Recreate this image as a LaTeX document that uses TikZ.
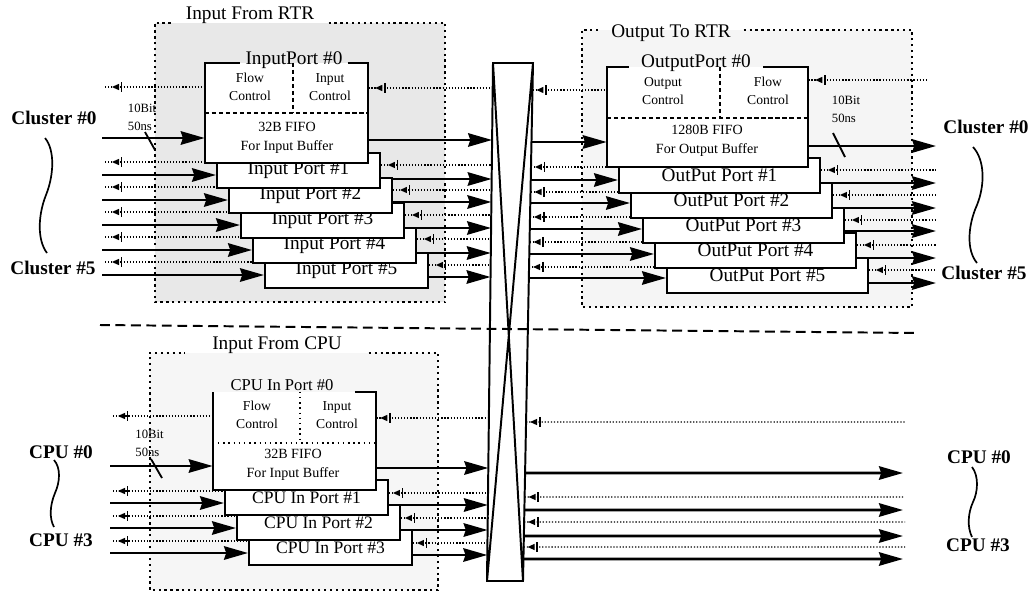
\documentclass[tikz,border=0pt]{standalone}
\usepackage{fontspec}
\setmainfont{Liberation Serif}
\usetikzlibrary{arrows.meta,calc}

\pgfdeclarelayer{back}
\pgfdeclarelayer{mid}
\pgfsetlayers{back,mid,main}

\begin{document}
\begin{tikzpicture}[x=0.25mm, y=-0.25mm,
  >={Stealth[length=17pt, width=9.5pt, inset=1.5pt]},
  bus/.style={line width=2pt, ->},
  sig/.style={line width=0.9pt, dash pattern=on 0.9pt off 1.3pt},
  grpline/.style={line width=1.3pt, dash pattern=on 1.6pt off 2.6pt},
  grp/.style={inner sep=0pt},
  port/.style={draw, fill=white, line width=1.4pt, inner sep=0pt, font=\fontsize{13.7}{15}\selectfont},
  cport/.style={port, font=\fontsize{12.5}{13}\selectfont},
  port0/.style={fill=white, inner sep=0pt},
  frame/.style={line width=1.4pt},
  divline/.style={line width=1.1pt, dash pattern=on 3pt off 2pt},
  cdivline/.style={line width=1.1pt, dash pattern=on 1.1pt off 2.6pt},
  ttl/.style={font=\fontsize{13.7}{15}\selectfont, inner ysep=0pt},
  cttl/.style={font=\fontsize{11.8}{13}\selectfont, inner ysep=0pt},
  small/.style={align=center, font=\fontsize{9.7}{12.8}\selectfont, inner sep=0pt},
  fifo/.style={align=center, font=\fontsize{10}{13.5}\selectfont, inner sep=0pt},
  big/.style={font=\fontsize{13.7}{15}\selectfont\bfseries, inner sep=0pt},
  rate/.style={align=left, font=\fontsize{9}{12.8}\selectfont, inner sep=0pt},
  slash/.style={line width=1.3pt},
  brace/.style={line width=1.2pt},
  ack/.pic={\fill (-5,0) -- (2,-3.2) -- (2,3.2) -- cycle;
            \draw[line width=1.4pt] (4.5,-5) -- (4.5,5);}]
\useasboundingbox (0,0) rectangle (1030,592);

% shaded regions
\begin{pgfonlayer}{back}
\node[grp, fill=gray!18, minimum width=72.5mm, minimum height=69.75mm] (gIn) at (300,162.5) {};
\node[grp, fill=gray!8, minimum width=82.5mm, minimum height=69.25mm] (gOut) at (747,168.5) {};
\node[grp, fill=gray!7, minimum width=72mm, minimum height=59.25mm] (gCpu) at (294,471.5) {};
\end{pgfonlayer}
\node[ttl, inner xsep=10pt] (tIn) at (250,15) {Input From RTR};
\node[ttl, inner xsep=9pt] (tOut) at (671,33) {Output To RTR};
\node[ttl, inner xsep=19pt] (tCpu) at (277,345) {Input From CPU};

% ports, back to front
\foreach \k in {5,4,...,1}{
  \node[port, minimum width=40.75mm, minimum height=8.75mm] (inA\k) at (286.5+12*\k,145.5+25*\k) {Input Port \#\k};
  \node[port, minimum width=50.25mm, minimum height=8.75mm] (outA\k) at (707.5+12*\k,150.5+25*\k) {OutPut Port \#\k};
}
\foreach \k in {3,2,1}
  \node[cport, minimum width=40.75mm, minimum height=8.75mm] (cin\k) at (294.5+12*\k,472.5+25*\k) {CPU In Port \#\k};

\node[port0, minimum width=40.75mm, minimum height=25mm] (inA0) at (286.5,113) {};
\node[ttl, inner xsep=3.5pt] (tinA0) at (294,60) {InputPort \#0};
\draw[frame] (tinA0.east |- inA0.north) -- (inA0.north east) -- (inA0.south east) -- (inA0.south west) -- (inA0.north west) -- (tinA0.west |- inA0.north);
\coordinate (inAv) at ($(inA0.north west)!0.54!(inA0.north east)$);
\coordinate (inAh) at ($(inA0.north west)!0.5!(inA0.south west)$);
\draw[divline] (inAh) -- (inAh -| inA0.east) (inAv) -- (inAv |- inAh);
\node[small] (inAfc) at (250,87) {Flow\\Control};
\node[small] (inAic) at (330,87) {Input\\Control};
\node[fifo] (inAbuf) at (287,138) {32B FIFO\\For Input Buffer};

\node[port0, minimum width=50.25mm, minimum height=25mm] (outA0) at (707.5,117) {};
\node[ttl, inner xsep=8.5pt] (toutA0) at (696,63) {OutputPort \#0};
\draw[frame] (toutA0.east |- outA0.north) -- (outA0.north east) -- (outA0.south east) -- (outA0.south west) -- (outA0.north west) -- (toutA0.west |- outA0.north);
\coordinate (outAv) at ($(outA0.north west)!0.562!(outA0.north east)$);
\coordinate (outAh) at ($(outA0.north west)!0.51!(outA0.south west)$);
\draw[divline] (outAh) -- (outAh -| outA0.east) (outAv) -- (outAv |- outAh);
\node[small] (outAoc) at (663,91) {Output\\Control};
\node[small] (outAfc) at (768,91) {Flow\\Control};
\node[fifo] (outAbuf) at (707,141) {1280B FIFO\\For Output Buffer};

\node[port0, minimum width=40.75mm, minimum height=24.5mm] (cin0) at (294.5,441) {};
\node[cttl, inner xsep=15pt] (tcin0) at (282,385) {CPU In Port \#0};
\draw[frame] (tcin0.east |- cin0.north) -- (cin0.north east) -- (cin0.south east) -- (cin0.south west) -- (cin0.north west);
\coordinate (cinv) at ($(cin0.north west)!0.534!(cin0.north east)$);
\coordinate (cinh) at ($(cin0.north west)!0.52!(cin0.south west)$);
\draw[cdivline] (cinh) -- (cinh -| cin0.east) (cinv) -- (cinv |- cinh);
\node[small] (cinfc) at (257,415) {Flow\\Control};
\node[small] (cinic) at (337,415) {Input\\Control};
\node[fifo] (cinbuf) at (293,465) {32B FIFO\\For Input Buffer};

% crossbar
\coordinate (xtl) at (493,63); \coordinate (xtr) at (533,63);
\coordinate (xbr) at (523,581); \coordinate (xbl) at (487,581);
\draw[frame, line join=miter] (xtl) -- (xtr) -- (xbr) -- (xbl) -- cycle (xtl) -- (xbr) (xtr) -- (xbl);

\coordinate (sepL) at (100,325); \coordinate (sepR) at (917,333);
\draw[line width=1.4pt, dash pattern=on 7pt off 4pt] (sepL) -- (sepR);

% links
\begin{pgfonlayer}{mid}
\draw[grpline] (tIn.east |- gIn.north) -- (gIn.north east) -- (gIn.south east) -- (gIn.south west) -- (gIn.north west) -- (tIn.west |- gIn.north);
\draw[grpline] (tOut.east |- gOut.north) -- (gOut.north east) -- (gOut.south east) -- (gOut.south west) -- (gOut.north west) -- (tOut.west |- gOut.north);
\draw[grpline] (tCpu.east |- gCpu.north) -- (gCpu.north east) -- (gCpu.south east) -- (gCpu.south west) -- (gCpu.north west) -- (tCpu.west |- gCpu.north);
\foreach \k/\ld/\lb/\md/\mb/\od/\ob/\rd/\rb/\re in {
  0/87/138/88/140/90/142/80/146/926,
  1/162/175/165/179/167/180/170/183/936,
  2/187/200/190/202/192/203/195/208/936,
  3/212/225/215/228/217/229/220/231/936,
  4/237/250/239/253/242/254/245/258/936,
  5/262/275/265/277/267/278/270/283/936}{
  \pgfmathsetmacro\fa{(\md-63)/518}
  \pgfmathsetmacro\fb{(\mb-63)/518}
  \pgfmathsetmacro\fc{(\od-63)/518}
  \pgfmathsetmacro\fd{(\ob-63)/518}
  \coordinate (cd\k) at (105,\ld);
  \coordinate (cb\k) at (102,\lb);
  \coordinate (xd\k) at ($(xtl)!\fa!(xbl)$);
  \coordinate (xb\k) at ($(xtl)!\fb!(xbl)$);
  \coordinate (yd\k) at ($(xtr)!\fc!(xbr)$);
  \coordinate (yb\k) at ($(xtr)!\fd!(xbr)$);
  \coordinate (rd\k) at (\re,\rd);
  \coordinate (rb\k) at (936,\rb);
  \draw[sig] (cd\k) -- (cd\k -| inA\k.west);
  \draw[sig] (inA\k.east |- xd\k) -- (xd\k);
  \draw[sig] (yd\k) -- (yd\k -| outA\k.west);
  \draw[sig] (outA\k.east |- rd\k) -- (rd\k);
  \draw[bus] (cb\k) -- (cb\k -| inA\k.west);
  \draw[bus] (inA\k.east |- xb\k) -- (xb\k);
  \draw[bus] (yb\k) -- (yb\k -| outA\k.west);
  \draw[bus] (outA\k.east |- rb\k) -- (rb\k);
  \pic at ($(cd\k)+(12,0)$) {ack};
  \pic at ($(inA\k.east |- xd\k)+(12,0)$) {ack};
  \pic at ($(yd\k)+(9,0)$) {ack};
  \pic at ($(outA\k.east |- rd\k)+(12,0)$) {ack};
}
\foreach \k/\ld/\lb/\md/\mb/\od/\ob in {
  0/416/466/418/468/422/473,
  1/491/503/493/505/497/510,
  2/516/528/518/530/522/536,
  3/541/553/543/555/547/559}{
  \pgfmathsetmacro\fa{(\md-63)/518}
  \pgfmathsetmacro\fb{(\mb-63)/518}
  \pgfmathsetmacro\fc{(\od-63)/518}
  \pgfmathsetmacro\fd{(\ob-63)/518}
  \coordinate (pd\k) at (113,\ld);
  \coordinate (pb\k) at (110,\lb);
  \coordinate (ud\k) at ($(xtl)!\fa!(xbl)$);
  \coordinate (ub\k) at ($(xtl)!\fb!(xbl)$);
  \coordinate (vd\k) at ($(xtr)!\fc!(xbr)$);
  \coordinate (vb\k) at ($(xtr)!\fd!(xbr)$);
  \coordinate (qd\k) at (905,\od);
  \coordinate (qb\k) at (903,\ob);
  \draw[sig] (pd\k) -- (pd\k -| cin\k.west);
  \draw[sig] (cin\k.east |- ud\k) -- (ud\k);
  \draw[sig] (vd\k) -- (qd\k);
  \draw[bus] (pb\k) -- (pb\k -| cin\k.west);
  \draw[bus] (cin\k.east |- ub\k) -- (ub\k);
  \draw[bus] (vb\k) -- (qb\k);
  \pic at ($(pd\k)+(10,0)$) {ack};
  \pic at ($(cin\k.east |- ud\k)+(9,0)$) {ack};
  \pic at ($(vd\k)+(9,0)$) {ack};
}
\end{pgfonlayer}

% bus width marks
\node[rate] (rIn) at (142,117) {10Bit\\50ns};
\node[rate] (rOut) at (846,109) {10Bit\\50ns};
\node[rate] (rCpu) at (149.5,443.5) {10Bit\\50ns};
\draw[slash] (145,132) -- (155,150);
\draw[slash] (833,133) -- (845,157);
\draw[slash] (151,459) -- (162,478);

% end labels
\node[big] (cl0) at (54,118) {Cluster \#0};
\node[big] (cl5) at (53,268) {Cluster \#5};
\node[big] (cr0) at (986,127) {Cluster \#0};
\node[big] (cr5) at (984,273) {Cluster \#5};
\node[big] (pl0) at (61,452) {CPU \#0};
\node[big] (pl3) at (61,540) {CPU \#3};
\node[big] (pr0) at (979,457) {CPU \#0};
\node[big] (pr3) at (978,545) {CPU \#3};
\draw[brace] (45,138) .. controls (55,150) and (54,175) .. (46,195) .. controls (38,215) and (37,240) .. (47,253);
\draw[brace] (973,147) .. controls (985,160) and (985,185) .. (977,205) .. controls (968,225) and (966,250) .. (977,263);
\draw[brace] (54,460) .. controls (61,468) and (60,482) .. (55,493) .. controls (50,505) and (49,518) .. (54,527);
\draw[brace] (972,467) .. controls (979,476) and (978,492) .. (973,502) .. controls (968,513) and (967,527) .. (972,537);
\end{tikzpicture}
\end{document}
